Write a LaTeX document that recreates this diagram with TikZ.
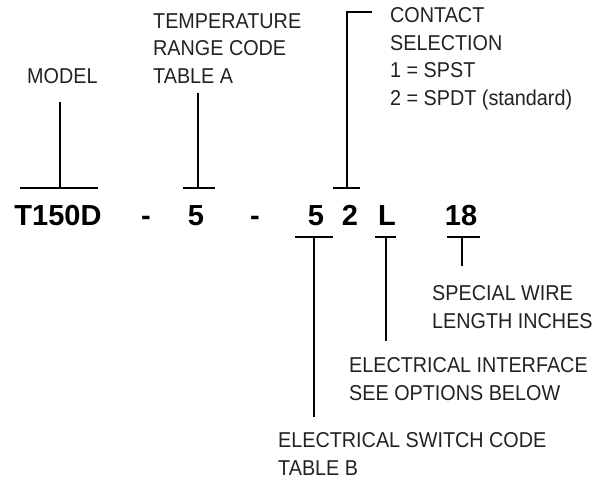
\documentclass[tikz,border=0pt]{standalone}
\usepackage{fontspec}
\newfontfamily\lblfamily[FakeStretch=0.92]{Liberation Sans}
\newfontfamily\codefamily{Liberation Sans Bold}
\definecolor{txt}{HTML}{222222}
\tikzset{
  lbl/.style={anchor=base west, inner sep=0pt, align=left, text=txt,
    font=\lblfamily\fontsize{21.5pt}{27.5pt}\selectfont},
  code/.style={anchor=base, inner sep=0pt, text=black,
    font=\codefamily\fontsize{29pt}{31pt}\selectfont},
  lead/.style={line width=1.9pt, black, line cap=butt},
}
\begin{document}
\begin{tikzpicture}[x=1pt,y=-1pt]
\useasboundingbox (0,0) rectangle (607,480);
% labels (anchored at the baseline of the last line)
\node[lbl] (model) at (27,83) {MODEL};
\node[lbl] (temp) at (153,83) {TEMPERATURE\\RANGE CODE\\TABLE A};
\node[lbl] (contact) at (390,105) {CONTACT\\SELECTION\\1 = SPST\\2 = SPDT (standard)};
\node[lbl] (wire) at (432,328) {SPECIAL WIRE\\LENGTH INCHES};
\node[lbl] (iface) at (349,400) {ELECTRICAL INTERFACE\\SEE OPTIONS BELOW};
\node[lbl] (switch) at (278,475) {ELECTRICAL SWITCH CODE\\TABLE B};
% code
\node[code] (cmodel) at (58,225) {T150D};
\node[code] (d1) at (146,225) {-};
\node[code] (ctemp) at (196,225) {5};
\node[code] (d2) at (255,225) {-};
\node[code] (cswitch) at (316,225) {5};
\node[code] (ccontact) at (350,225) {2};
\node[code] (ciface) at (387,225) {L};
\node[code] (cwire) at (461,225) {18};
% leader coordinates
\coordinate (m1) at (60,102);  \coordinate (m2) at (60,188);
\coordinate (mbl) at (20,188); \coordinate (mbr) at (98,188);
\coordinate (t1) at (198,93);  \coordinate (t2) at (198,188);
\coordinate (tbl) at (183,188); \coordinate (tbr) at (215,188);
\coordinate (c0) at (372,12);  \coordinate (c1) at (347,12); \coordinate (c2) at (347,188);
\coordinate (cbl) at (333,188); \coordinate (cbr) at (360,188);
\coordinate (s1) at (314,237); \coordinate (s2) at (314,417);
\coordinate (sbl) at (295,237); \coordinate (sbr) at (333,237);
\coordinate (i1) at (386,237); \coordinate (i2) at (386,341);
\coordinate (ibl) at (375,237); \coordinate (ibr) at (396,237);
\coordinate (w1) at (462,237); \coordinate (w2) at (462,266);
\coordinate (wbl) at (447,237); \coordinate (wbr) at (480,237);
% leaders
\draw[lead] (m1) -- (m2); \draw[lead] (mbl) -- (mbr);
\draw[lead] (t1) -- (t2); \draw[lead] (tbl) -- (tbr);
\draw[lead] (c0) -- (c1) -- (c2); \draw[lead] (cbl) -- (cbr);
\draw[lead] (s1) -- (s2); \draw[lead] (sbl) -- (sbr);
\draw[lead] (i1) -- (i2); \draw[lead] (ibl) -- (ibr);
\draw[lead] (w1) -- (w2); \draw[lead] (wbl) -- (wbr);
\end{tikzpicture}
\end{document}
